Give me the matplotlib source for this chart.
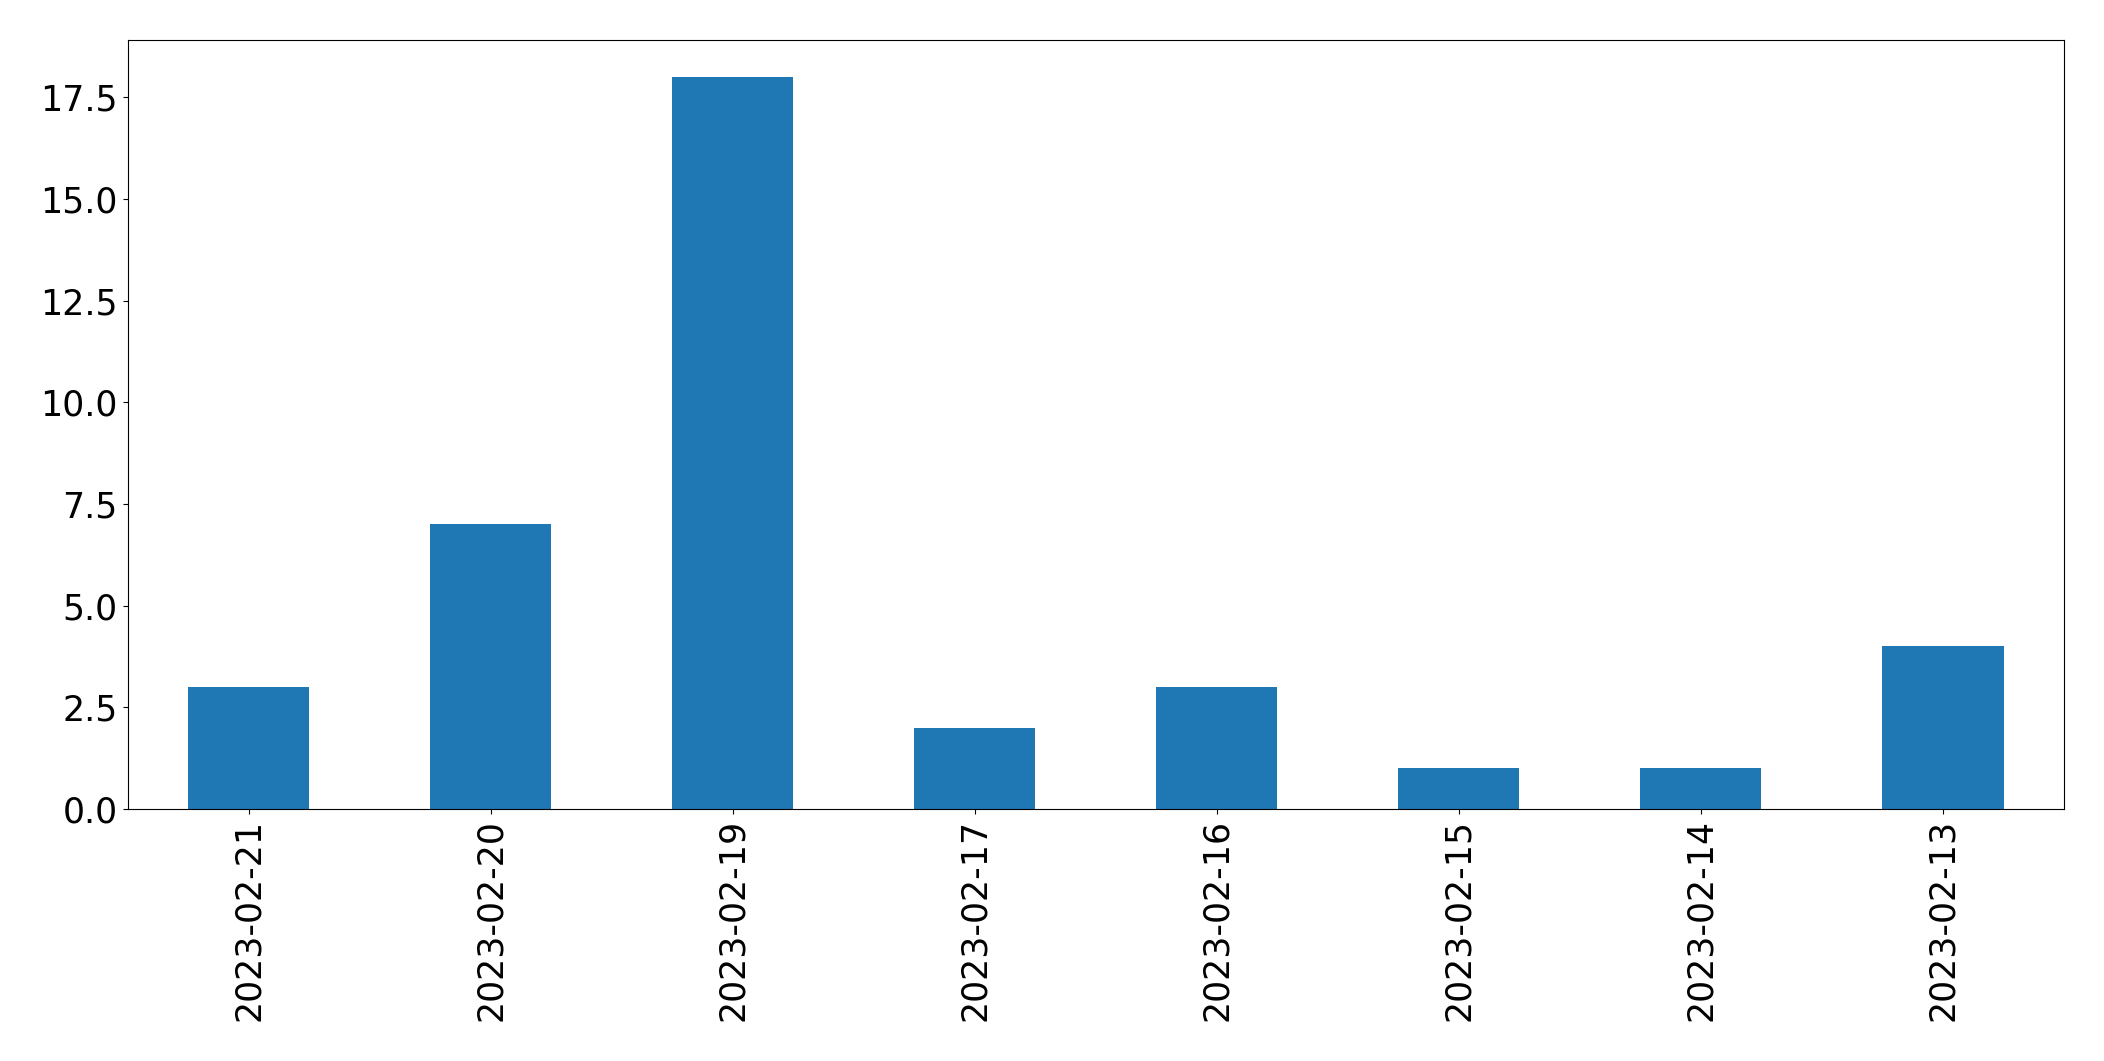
import matplotlib
matplotlib.use("Agg")
from matplotlib import pyplot as plt
import pandas as pd

# dane z wykresu
daty = ["2023-02-21", "2023-02-20", "2023-02-19", "2023-02-17",
        "2023-02-16", "2023-02-15", "2023-02-14", "2023-02-13"]
liczby = [3, 7, 18, 2, 3, 1, 1, 4]

seria = pd.Series(liczby, index=daty)

fig = plt.figure(figsize=(21.04, 10.61), dpi=100, facecolor="white")
ax = fig.add_axes([0.0606, 0.2375, 0.9204, 0.7245])
seria.plot(kind="bar", ax=ax, color="#1f77b4", width=0.5)
ax.tick_params(axis="both", labelsize=25)
fig.savefig("out.png", dpi=100)
